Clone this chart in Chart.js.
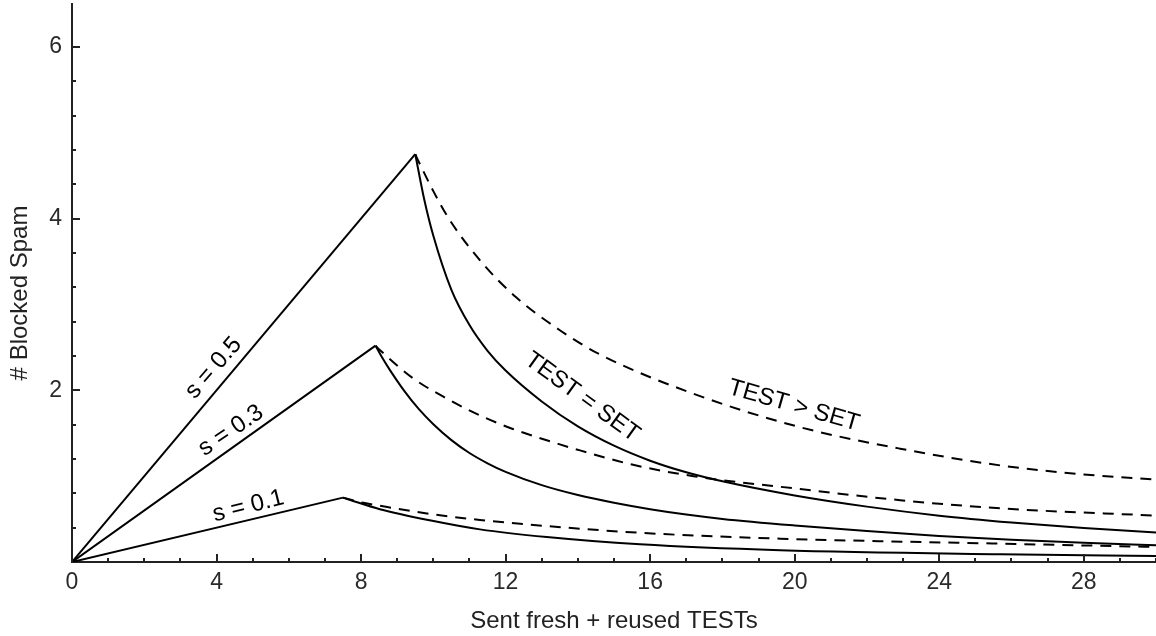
<!DOCTYPE html>
<html>
<head>
<meta charset="utf-8">
<script src="https://cdn.jsdelivr.net/npm/chart.js@4/dist/chart.umd.min.js"></script>
<style>
  html, body { margin: 0; padding: 0; background: #fff; }
  #wrap { width: 1156px; height: 636px; position: relative; }
</style>
</head>
<body>
<div id="wrap"><canvas id="c"></canvas></div>
<script>
// ---------- data ----------
// rising parts (linear growth until the peak)
const s05RiseX = [0, 9.5];
const s05RiseY = [0, 4.75];
const s03RiseX = [0, 8.4];
const s03RiseY = [0, 2.52];
const s01RiseX = [0, 7.5];
const s01RiseY = [0, 0.75];

// TEST = SET (solid decays)
const s05SetX = [9.5, 9.75, 10.0, 10.5, 11.0, 11.5, 12.0, 13.0, 14.0, 15.0, 16.0, 17.0, 18.0, 20.0, 22.0, 24.0, 26.0, 28.0, 30.0];
const s05SetY = [4.75, 4.22, 3.80, 3.17, 2.76, 2.46, 2.23, 1.87, 1.58, 1.355, 1.18, 1.045, 0.94, 0.775, 0.645, 0.54, 0.46, 0.395, 0.345];
const s03SetX = [8.4, 8.6, 8.8, 9.2, 9.6, 10.0, 10.5, 11.0, 11.5, 12.0, 13.0, 14.0, 15.0, 16.0, 17.0, 18.0, 20.0, 22.0, 24.0, 26.0, 28.0, 30.0];
const s03SetY = [2.52, 2.37, 2.235, 1.99, 1.78, 1.605, 1.42, 1.27, 1.15, 1.05, 0.895, 0.78, 0.69, 0.615, 0.553, 0.502, 0.425, 0.36, 0.303, 0.258, 0.223, 0.195];
const s01SetX = [7.5, 7.78, 8.52, 9.9, 11.29, 13.14, 15.72, 19.6, 25.69, 30];
const s01SetY = [0.75, 0.711, 0.615, 0.486, 0.38, 0.29, 0.206, 0.137, 0.09, 0.07];

// TEST > SET (dashed decays)
const s05MoreX = [9.5, 9.6, 10.0, 10.46, 11.38, 12.3, 13.5, 14.6, 17.2, 20.15, 22.92, 25.69, 28, 30];
const s05MoreY = [4.75, 4.66, 4.32, 3.98, 3.47, 3.08, 2.70, 2.42, 1.96, 1.57, 1.32, 1.125, 1.02, 0.96];
const s03MoreX = [8.4, 8.52, 9.44, 10.37, 11.38, 12.2, 13.5, 14.06, 15.5, 17.2, 20.15, 22.92, 25.69, 30];
const s03MoreY = [2.52, 2.47, 2.14, 1.904, 1.69, 1.55, 1.37, 1.30, 1.135, 1.00, 0.85, 0.72, 0.625, 0.54];
const s01MoreX = [7.5, 8.06, 8.52, 9.9, 11.29, 12.67, 15.72, 19.6, 25.69, 30];
const s01MoreY = [0.75, 0.69, 0.655, 0.56, 0.49, 0.435, 0.34, 0.272, 0.214, 0.175];

// axis ticks
const xTickLabels = [0, 4, 8, 12, 16, 20, 24, 28];
const yTickLabels = [2, 4, 6];
const xMinorStep = 1;
const yMinorStep = 0.4;

// curve labels
const labelTexts = ['s = 0.5', 's = 0.3', 's = 0.1', 'TEST = SET', 'TEST > SET'];
const labelAtX = [3.92, 4.4, 4.88, 14.12, 19.98];
const labelAtY = [2.26, 1.53, 0.65, 1.92, 1.82];
const labelAngle = [-49, -34, -14, 36, 16];

// ---------- build ----------
const pts = (xs, ys) => xs.map((x, i) => ({ x: x, y: ys[i] }));
const FONT = "'Liberation Sans', Arial, Helvetica, sans-serif";
const DASH = [11, 8];

function ds(xs, ys, dashed, curved) {
  return {
    data: pts(xs, ys),
    borderColor: '#000',
    borderWidth: 2,
    borderDash: dashed ? DASH : [],
    pointRadius: 0,
    fill: false,
    tension: 0,
    cubicInterpolationMode: curved ? 'monotone' : 'default'
  };
}

const datasets = [
  ds(s05RiseX, s05RiseY, false, false),
  ds(s03RiseX, s03RiseY, false, false),
  ds(s01RiseX, s01RiseY, false, false),
  ds(s05SetX, s05SetY, false, true),
  ds(s03SetX, s03SetY, false, true),
  ds(s01SetX, s01SetY, false, true),
  ds(s05MoreX, s05MoreY, true, true),
  ds(s03MoreX, s03MoreY, true, true),
  ds(s01MoreX, s01MoreY, true, true)
];

const near = (v, arr) => arr.some(a => Math.abs(a - v) < 1e-6);
const isMultiple = (v, step) => Math.abs(v / step - Math.round(v / step)) < 1e-6;

const zeroPad = s => { s.paddingTop = 0; s.paddingBottom = 0; s.paddingLeft = 0; s.paddingRight = 0; };

const inwardTicks = {
  id: 'inwardTicks',
  afterDraw(chart) {
    const { ctx, chartArea, scales } = chart;
    const x = scales.x, y = scales.y;
    ctx.save();
    ctx.strokeStyle = '#222';
    ctx.lineWidth = 2;
    x.ticks.forEach(t => {
      if (!isMultiple(t.value, xMinorStep)) return;
      const px = Math.round(x.getPixelForValue(t.value));
      const len = near(t.value, xTickLabels) ? 8 : 4;
      ctx.beginPath();
      ctx.moveTo(px, chartArea.bottom);
      ctx.lineTo(px, chartArea.bottom - len);
      ctx.stroke();
    });
    y.ticks.forEach(t => {
      if (!isMultiple(t.value, yMinorStep) || t.value === 0) return;
      const py = Math.round(y.getPixelForValue(t.value));
      const len = near(t.value, yTickLabels) ? 8 : 4;
      ctx.beginPath();
      ctx.moveTo(chartArea.left, py);
      ctx.lineTo(chartArea.left + len, py);
      ctx.stroke();
    });
    ctx.restore();
  }
};

const curveLabels = {
  id: 'curveLabels',
  afterDatasetsDraw(chart) {
    const { ctx, scales } = chart;
    ctx.save();
    ctx.fillStyle = '#000';
    ctx.font = '24px ' + FONT;
    ctx.textAlign = 'center';
    ctx.textBaseline = 'middle';
    labelTexts.forEach((txt, i) => {
      const px = scales.x.getPixelForValue(labelAtX[i]);
      const py = scales.y.getPixelForValue(labelAtY[i]);
      ctx.save();
      ctx.translate(px, py);
      ctx.rotate(labelAngle[i] * Math.PI / 180);
      ctx.fillText(txt, 0, 0);
      ctx.restore();
    });
    // y axis title
    ctx.save();
    ctx.fillStyle = '#222';
    ctx.font = '24px ' + FONT;
    ctx.translate(20, 293);
    ctx.rotate(-Math.PI / 2);
    ctx.fillText('# Blocked Spam', 0, 0);
    ctx.restore();
    ctx.restore();
  }
};

new Chart(document.getElementById('c'), {
  type: 'line',
  data: { datasets: datasets },
  options: {
    responsive: true,
    maintainAspectRatio: false,
    animation: false,
    devicePixelRatio: 1,
    layout: { padding: { top: 4, right: 0, bottom: 0, left: 0 } },
    plugins: { legend: { display: false }, tooltip: { enabled: false } },
    scales: {
      x: {
        type: 'linear',
        min: 0,
        max: 30,
        afterFit: s => { s.height = 74; zeroPad(s); },
        border: { display: true, color: '#222', width: 2 },
        grid: { display: true, drawOnChartArea: false, drawTicks: false },
        ticks: {
          stepSize: xMinorStep,
          autoSkip: false,
          maxRotation: 0,
          padding: 7,
          color: '#2a2a2a',
          font: { family: FONT, size: 23 },
          callback: v => near(v, xTickLabels) ? String(v) : ''
        },
        title: {
          display: true,
          text: 'Sent fresh + reused TESTs',
          color: '#222',
          font: { family: FONT, size: 24 },
          padding: { top: 0, bottom: 0 }
        }
      },
      y: {
        type: 'linear',
        min: 0,
        max: 6.5,
        afterFit: s => { s.width = 72; zeroPad(s); },
        border: { display: true, color: '#222', width: 2 },
        grid: { display: true, drawOnChartArea: false, drawTicks: false },
        ticks: {
          stepSize: yMinorStep,
          autoSkip: false,
          padding: 10,
          color: '#2a2a2a',
          font: { family: FONT, size: 23 },
          callback: v => near(v, yTickLabels) ? String(v) : ''
        }
      }
    }
  },
  plugins: [inwardTicks, curveLabels]
});
</script>
</body>
</html>
